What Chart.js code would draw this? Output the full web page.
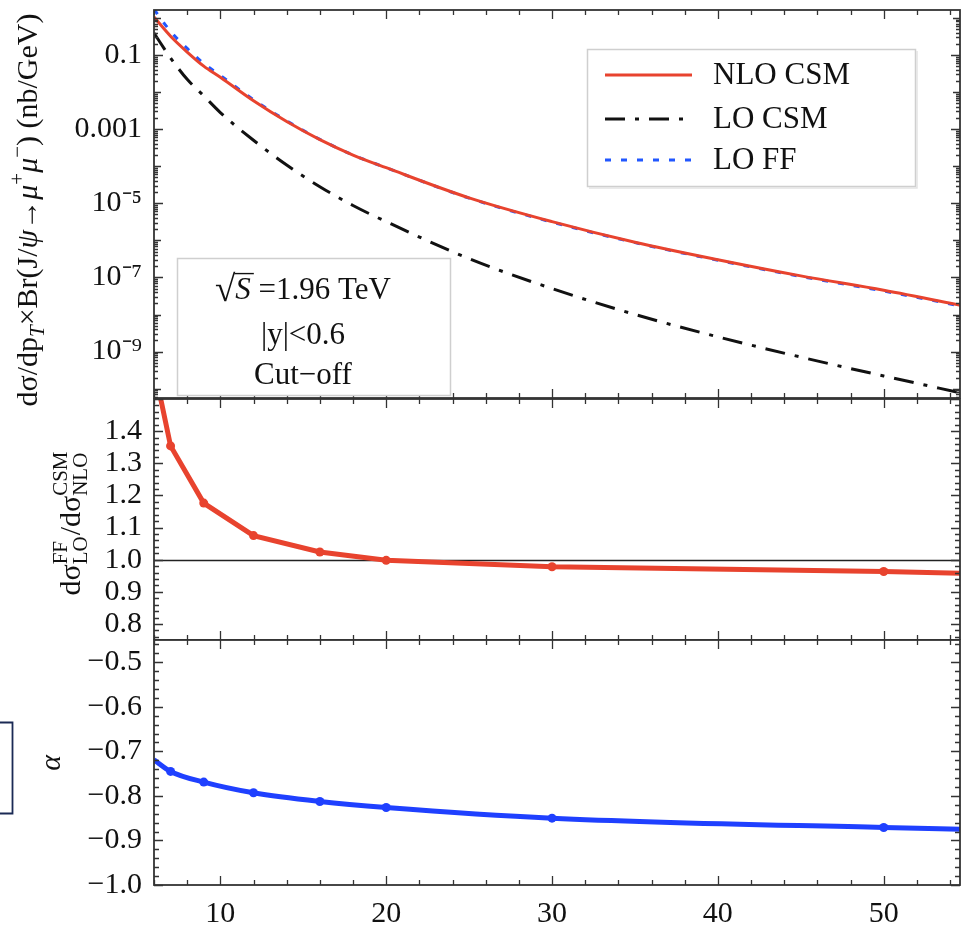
<!DOCTYPE html>
<html>
<head>
<meta charset="utf-8">
<script src="https://cdn.jsdelivr.net/npm/chart.js@4.4.1/dist/chart.umd.min.js"></script>
<style>
  body { margin: 0; background: #fff; }
  #wrap { position: relative; width: 961px; height: 927px; overflow: hidden; background: #fff; }
  canvas { position: absolute; left: 0; }
</style>
</head>
<body>
<div id="wrap">
  <canvas id="topChart" width="961" height="420" style="top:0px"></canvas>
  <canvas id="ratioChart" width="961" height="260" style="top:380px"></canvas>
  <canvas id="alphaChart" width="961" height="297" style="top:630px"></canvas>
</div>
<script>
// pT grid (GeV) and cross sections (nb/GeV)
const ptGrid = [6, 7, 8, 9, 10, 12, 14, 16, 18, 20, 25, 30, 35, 40, 45, 50, 55];
const nloCsm = [1.05, 0.32, 0.12, 0.05, 0.025, 5.8e-3, 1.6e-3, 5.2e-4, 2.0e-4, 9.1e-5, 1.4e-5, 3.2e-6, 8.9e-7, 3.0e-7, 1.1e-7, 4.5e-8, 1.65e-8];
const loCsm = [0.39, 0.083, 0.022, 7.9e-3, 2.8e-3, 5.0e-4, 1.07e-4, 2.8e-5, 8.7e-6, 3.2e-6, 3.2e-7, 5.0e-8, 1.0e-8, 2.5e-9, 7.1e-10, 2.2e-10, 7.1e-11];
const loFf = [1.7, 0.43, 0.15, 0.059, 0.028, 6.2e-3, 1.67e-3, 5.3e-4, 2.0e-4, 9.1e-5, 1.38e-5, 3.1e-6, 8.7e-7, 2.9e-7, 1.06e-7, 4.3e-8, 1.58e-8];

// ratio panel and alpha panel
const ratioPt = [6, 7, 9, 12, 16, 20, 30, 50, 55];
const ratioVal = [1.6, 1.354, 1.176, 1.075, 1.024, 0.998, 0.978, 0.963, 0.957];
const alphaPt = [6, 7, 9, 12, 16, 20, 30, 50, 55];
const alphaVal = [-0.719, -0.745, -0.769, -0.793, -0.8125, -0.826, -0.85, -0.871, -0.875];
const markerRadius = [0, 4.5, 4.5, 4.5, 4.5, 4.5, 4.5, 4.5, 0];

// ticks
const xTicks = [10, 20, 30, 40, 50];
const logTicks = [0.1, 0.001, 1e-5, 1e-7, 1e-9];
const logTickLabels = ['0.1', '0.001', '10⁻⁵', '10⁻⁷', '10⁻⁹'];
const ratioTicks = [0.8, 0.9, 1.0, 1.1, 1.2, 1.3, 1.4];
const alphaTicks = [-1.0, -0.9, -0.8, -0.7, -0.6, -0.5];

const FONT = 'Liberation Serif';
const TICK_FONT = { family: '"Liberation Serif", serif', size: 30 };
const INK = '#111';
const FRAME = '#333';
const LEFT = 154;

function pts(xs, ys) { return xs.map((x, i) => ({ x, y: ys[i] })); }
function richFont(size, italic) { return (italic ? 'italic ' : '') + size + 'px "' + FONT + '", serif'; }

function partWidth(ctx, p, size) {
  if (p.stack) {
    ctx.font = richFont(size * 0.7, false);
    return Math.max(ctx.measureText(p.sup).width, ctx.measureText(p.sub).width) + 1;
  }
  ctx.font = richFont((p.sub || p.sup) ? size * 0.7 : size, p.it);
  return ctx.measureText(p.t).width;
}

// draws text with sub/superscripts, centred on (cx, cy), optionally rotated
function drawRich(ctx, parts, cx, cy, size, rotate) {
  ctx.save();
  ctx.translate(cx, cy);
  if (rotate) ctx.rotate(-Math.PI / 2);
  let w = 0;
  parts.forEach(p => { w += partWidth(ctx, p, size); });
  let x = -w / 2;
  const base = size * 0.33;
  ctx.fillStyle = INK;
  ctx.textAlign = 'left';
  ctx.textBaseline = 'alphabetic';
  parts.forEach(p => {
    const pw = partWidth(ctx, p, size);
    if (p.stack) {
      ctx.font = richFont(size * 0.7, false);
      ctx.fillText(p.sup, x, base - size * 0.42);
      ctx.fillText(p.sub, x, base + size * 0.22);
    } else {
      let dy = 0;
      if (p.sub) dy = size * 0.22;
      if (p.sup) dy = -size * 0.42;
      ctx.font = richFont((p.sub || p.sup) ? size * 0.7 : size, p.it);
      ctx.fillText(p.t, x, base + dy);
    }
    x += pw;
  });
  ctx.restore();
}

// inward ticks on all four sides plus the frame
function drawFrame(chart, yTickList) {
  const { ctx, chartArea: a, scales: { x, y } } = chart;
  ctx.save();
  ctx.strokeStyle = FRAME;
  ctx.lineWidth = 1.3;
  ctx.beginPath();
  for (let v = 6; v <= 54; v += 2) {
    const px = Math.round(x.getPixelForValue(v)) + 0.5;
    const len = v % 10 === 0 ? 9 : 5;
    ctx.moveTo(px, a.bottom); ctx.lineTo(px, a.bottom - len);
    ctx.moveTo(px, a.top); ctx.lineTo(px, a.top + len);
  }
  yTickList.forEach(([v, len]) => {
    const py = Math.round(y.getPixelForValue(v)) + 0.5;
    if (py < a.top - 0.5 || py > a.bottom + 0.5) return;
    ctx.moveTo(a.left, py); ctx.lineTo(a.left + len, py);
    ctx.moveTo(a.right, py); ctx.lineTo(a.right - len, py);
  });
  ctx.stroke();
  ctx.lineWidth = 1.8;
  ctx.strokeRect(a.left, a.top, a.width, a.height);
  ctx.restore();
}

function logTickList() {
  const list = [];
  for (let e = -11; e <= 0; e++) {
    for (let m = 1; m <= 9; m++) {
      const v = m * Math.pow(10, e);
      let len = 4;
      if (m === 1) len = (e % 2 !== 0) ? 9 : 7;
      list.push([v, len]);
    }
  }
  return list;
}

function linTickList(from, to) {
  const list = [];
  for (let k = Math.round(from * 50); k <= Math.round(to * 50); k++) {
    list.push([k / 50, k % 5 === 0 ? 9 : 5]);
  }
  return list;
}

function yAxis(extra) {
  return Object.assign({
    grid: { display: false, drawTicks: false },
    border: { display: false },
    afterFit: s => { s.width = LEFT; s.paddingTop = 0; s.paddingBottom = 0; }
  }, extra);
}

function hiddenX() {
  return {
    type: 'linear', min: 6, max: 54.6, display: false,
    afterFit: s => { s.paddingLeft = 0; s.paddingRight = 0; }
  };
}

const baseOptions = {
  responsive: false,
  animation: false,
  events: [],
  plugins: { legend: { display: false }, tooltip: { enabled: false } }
};

// top panel
const topPlugin = {
  id: 'topDecor',
  afterDatasetsDraw(chart) {
    const ctx = chart.ctx;
    drawFrame(chart, logTickList());

    // legend box
    ctx.save();
    ctx.fillStyle = '#fff';
    ctx.fillRect(587, 49, 328, 137);
    ctx.strokeStyle = '#cfcfcf';
    ctx.lineWidth = 1.5;
    ctx.strokeRect(587.5, 49.5, 328, 137);
    ctx.strokeStyle = '#e4e4e4';
    ctx.beginPath();
    ctx.moveTo(589, 188); ctx.lineTo(917, 188); ctx.lineTo(917, 51);
    ctx.stroke();
    const rows = [75, 119, 160];
    chart.data.datasets.forEach((ds, i) => {
      ctx.strokeStyle = ds.borderColor;
      ctx.lineWidth = ds.borderWidth;
      ctx.setLineDash(ds.borderDash || []);
      ctx.beginPath();
      ctx.moveTo(605, rows[i]); ctx.lineTo(692, rows[i]);
      ctx.stroke();
      ctx.setLineDash([]);
      ctx.fillStyle = INK;
      ctx.font = richFont(31, false);
      ctx.textBaseline = 'middle';
      ctx.fillText(ds.label, 713, rows[i] + 1);
    });

    // info box
    ctx.fillStyle = '#fff';
    ctx.fillRect(177, 258, 273, 137);
    ctx.strokeStyle = '#cfcfcf';
    ctx.lineWidth = 1.5;
    ctx.strokeRect(177.5, 258.5, 273, 137);
    ctx.fillStyle = INK;
    ctx.textBaseline = 'alphabetic';
    const sz = 31;
    ctx.font = richFont(sz + 6, false);
    const wRoot = ctx.measureText('√').width;
    ctx.font = richFont(sz, false);
    const wRest = ctx.measureText(' =1.96 TeV').width;
    ctx.font = richFont(sz, true);
    const wS = ctx.measureText('S').width;
    const x0 = 303 - (wRoot + wS + wRest) / 2;
    const b = 299;
    ctx.font = richFont(sz + 6, false);
    ctx.fillText('√', x0, b + 2);
    ctx.font = richFont(sz, true);
    ctx.fillText('S', x0 + wRoot, b);
    ctx.font = richFont(sz, false);
    ctx.fillText(' =1.96 TeV', x0 + wRoot + wS, b);
    ctx.strokeStyle = INK;
    ctx.lineWidth = 1.4;
    ctx.beginPath();
    ctx.moveTo(x0 + wRoot - 1, b - sz * 0.82);
    ctx.lineTo(x0 + wRoot + wS + 3, b - sz * 0.82);
    ctx.stroke();
    ctx.textAlign = 'center';
    ctx.fillText('|y|<0.6', 303, 344);
    ctx.fillText('Cut−off', 303, 384);
    ctx.restore();

    drawRich(ctx, [
      { t: 'dσ/dp' }, { t: 'T', sub: true, it: true }, { t: '×Br(J/' }, { t: 'ψ', it: true },
      { t: '→' }, { t: 'μ', it: true }, { t: '+', sup: true }, { t: 'μ', it: true }, { t: '−', sup: true },
      { t: ') (nb/GeV)' }
    ], 27, 210, 30, true);
  }
};

new Chart(document.getElementById('topChart'), {
  type: 'line',
  data: {
    datasets: [
      { label: 'NLO CSM', data: pts(ptGrid, nloCsm), borderColor: '#e8432e', borderWidth: 3,
        pointRadius: 0, cubicInterpolationMode: 'monotone' },
      { label: 'LO CSM', data: pts(ptGrid, loCsm), borderColor: '#111', borderWidth: 3,
        borderDash: [20, 10, 4, 10], pointRadius: 0, cubicInterpolationMode: 'monotone' },
      { label: 'LO FF', data: pts(ptGrid, loFf), borderColor: '#2157ff', borderWidth: 3,
        borderDash: [6, 10], pointRadius: 0, cubicInterpolationMode: 'monotone' }
    ]
  },
  options: Object.assign({}, baseOptions, {
    layout: { padding: { top: 10, right: 1, bottom: 22, left: 0 } },
    scales: {
      x: hiddenX(),
      y: yAxis({
        type: 'logarithmic', min: 5.6e-11, max: 1.63,
        afterBuildTicks: s => { s.ticks = logTicks.map(v => ({ value: v })); },
        ticks: { font: TICK_FONT, color: INK, padding: 12, autoSkip: false,
          callback: (v, i) => logTickLabels[i] }
      })
    }
  }),
  plugins: [topPlugin]
});

// ratio panel
const ratioPlugin = {
  id: 'ratioDecor',
  beforeDatasetsDraw(chart) {
    const { ctx, chartArea: a, scales: { y } } = chart;
    const py = Math.round(y.getPixelForValue(1.0)) + 0.5;
    ctx.save();
    ctx.strokeStyle = '#222';
    ctx.lineWidth = 1.4;
    ctx.beginPath();
    ctx.moveTo(a.left, py); ctx.lineTo(a.right, py);
    ctx.stroke();
    ctx.restore();
  },
  afterDatasetsDraw(chart) {
    drawFrame(chart, linTickList(0.74, 1.5));
    drawRich(chart.ctx, [
      { t: 'dσ' }, { stack: true, sup: 'FF', sub: 'LO' }, { t: '/dσ' }, { stack: true, sup: 'CSM', sub: 'NLO' }
    ], 70, 143, 30, true);
  }
};

new Chart(document.getElementById('ratioChart'), {
  type: 'line',
  data: {
    datasets: [{
      data: pts(ratioPt, ratioVal), borderColor: '#e8432e', backgroundColor: '#e8432e',
      borderWidth: 5, pointRadius: markerRadius, pointBorderWidth: 0, tension: 0
    }]
  },
  options: Object.assign({}, baseOptions, {
    layout: { padding: { top: 19, right: 1, bottom: 0, left: 0 } },
    scales: {
      x: hiddenX(),
      y: yAxis({
        type: 'linear', min: 0.75, max: 1.5,
        afterBuildTicks: s => { s.ticks = ratioTicks.map(v => ({ value: v })); },
        ticks: { font: TICK_FONT, color: INK, padding: 12, autoSkip: false,
          callback: v => v.toFixed(1) }
      })
    }
  }),
  plugins: [ratioPlugin]
});

// alpha panel
const alphaPlugin = {
  id: 'alphaDecor',
  afterDatasetsDraw(chart) {
    const ctx = chart.ctx;
    drawFrame(chart, linTickList(-1.0, -0.44));
    drawRich(ctx, [{ t: 'α', it: true }], 50, 133, 30, true);
    // cell bracket at the far left
    ctx.save();
    ctx.strokeStyle = '#1b2a55';
    ctx.lineWidth = 1.8;
    ctx.beginPath();
    ctx.moveTo(0, 92.5); ctx.lineTo(12.5, 92.5); ctx.lineTo(12.5, 183.5); ctx.lineTo(0, 183.5);
    ctx.stroke();
    ctx.restore();
  }
};

new Chart(document.getElementById('alphaChart'), {
  type: 'line',
  data: {
    datasets: [{
      data: pts(alphaPt, alphaVal), borderColor: '#1f40ff', backgroundColor: '#1f40ff',
      borderWidth: 5, pointRadius: markerRadius, pointBorderWidth: 0, cubicInterpolationMode: 'monotone'
    }]
  },
  options: Object.assign({}, baseOptions, {
    layout: { padding: { top: 10, right: 1, bottom: 0, left: 0 } },
    scales: {
      x: {
        type: 'linear', min: 6, max: 54.6,
        grid: { display: false, drawTicks: false },
        border: { display: false },
        afterBuildTicks: s => { s.ticks = xTicks.map(v => ({ value: v })); },
        afterFit: s => { s.height = 42; s.paddingLeft = 0; s.paddingRight = 0; },
        ticks: { font: TICK_FONT, color: INK, padding: 11, maxRotation: 0, autoSkip: false,
          callback: v => String(v) }
      },
      y: yAxis({
        type: 'linear', min: -1.0, max: -0.45,
        afterBuildTicks: s => { s.ticks = alphaTicks.map(v => ({ value: v })); },
        ticks: { font: TICK_FONT, color: INK, padding: 12, autoSkip: false,
          callback: v => '−' + Math.abs(v).toFixed(1) }
      })
    }
  }),
  plugins: [alphaPlugin]
});
</script>
</body>
</html>
